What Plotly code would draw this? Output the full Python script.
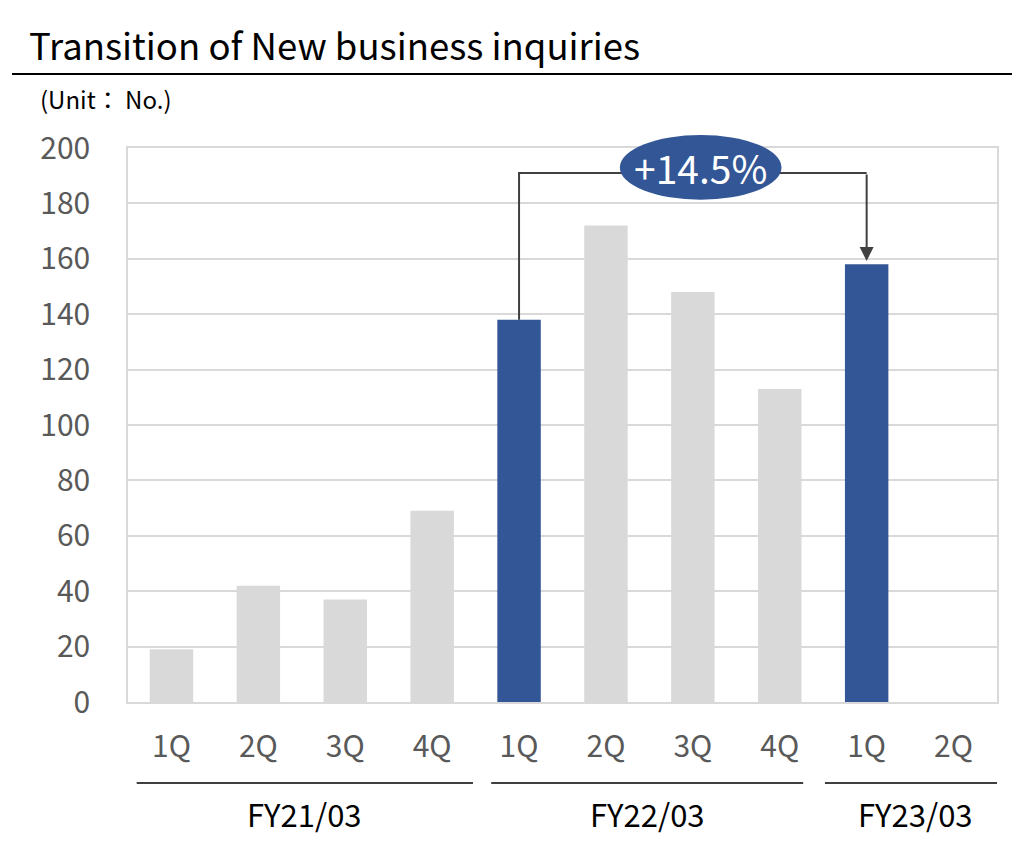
import plotly.graph_objects as go

quarters = ["1Q", "2Q", "3Q", "4Q", "1Q", "2Q", "3Q", "4Q", "1Q", "2Q"]
values = [19, 42, 37, 69, 138, 172, 148, 113, 158, None]
highlight = [False, False, False, False, True, False, False, False, True, False]
fiscal_years = ["FY21/03", "FY22/03", "FY23/03"]
fy_spans = [(-0.4, 3.47), (3.68, 7.27), (7.52, 9.5)]
y_ticks = [0, 20, 40, 60, 80, 100, 120, 140, 160, 180, 200]

BLUE = "#335696"
GRAY = "#d9d9d9"
FONT = "Noto Sans CJK JP"

xs = list(range(len(quarters)))
colors = [BLUE if h else GRAY for h in highlight]

fig = go.Figure()
fig.add_trace(go.Bar(x=xs, y=values, marker=dict(color=colors, line=dict(width=0)), width=0.5, hoverinfo="skip"))

OFF = 8  # page body margin
W, H = 1022, 848
L, T = 120, 140
pw, ph = 869, 554
R, B = W - L - pw, H - T - ph
X0, X1 = -0.5, 9.5
Y0, Y1 = 0, 200

def px_x(p):
    return (p - OFF - L) / pw

def px_y(p):
    return (T + ph - (p - OFF)) / ph

def dx(v):
    return (v - X0) / (X1 - X0)

def dy(v):
    return (v - Y0) / (Y1 - Y0)

shapes = []
annotations = []

# Title underline
shapes.append(dict(type="line", xref="paper", yref="paper", x0=px_x(12), x1=px_x(1012), y0=px_y(74), y1=px_y(74), line=dict(color="#000000", width=2)))

# Fiscal year group lines & labels
for fy, (a, b) in zip(fiscal_years, fy_spans):
    shapes.append(dict(type="line", xref="x", yref="paper", x0=a, x1=b, y0=px_y(783), y1=px_y(783), line=dict(color="#000000", width=1.5)))
    annotations.append(dict(x=(a + b) / 2 + (0.05 if fy == "FY23/03" else 0), y=px_y(813), xref="x", yref="paper", text=fy, showarrow=False, font=dict(family=FONT, size=31, color="#000000"), xanchor="center", yanchor="middle"))

# Connector line from FY22 1Q to FY23 1Q
i0, i1 = 4, 8
top_y = 191
shapes.append(dict(type="path", xref="x", yref="y", path=f"M {i0},{values[i0]} L {i0},{top_y} L {i1},{top_y}", line=dict(color="#404040", width=2)))
annotations.append(dict(x=i1, y=values[i1] + 1.2, ax=i1, ay=top_y, xref="x", yref="y", axref="x", ayref="y", text="", showarrow=True, arrowhead=2, arrowsize=1.4, arrowwidth=2, arrowcolor="#404040"))

# Ellipse with growth text (paper coords so it is not clipped by the plot area)
growth = (values[i1] / values[i0] - 1) * 100
cx, cy = 6.09, 193
shapes.append(dict(type="circle", xref="paper", yref="paper", x0=dx(cx - 0.93), x1=dx(cx + 0.93), y0=dy(cy - 11.7), y1=dy(cy + 11.7), fillcolor=BLUE, line=dict(width=0), layer="above"))
annotations.append(dict(x=dx(cx), y=dy(cy), xref="paper", yref="paper", text=f"+{growth:.1f}%", showarrow=False, font=dict(family=FONT, size=39, color="#ffffff"), xanchor="center", yanchor="middle"))

# Unit label
annotations.append(dict(x=px_x(38), y=px_y(98), xref="paper", yref="paper", text="(Unit： No.)", showarrow=False, font=dict(family=FONT, size=24, color="#000000"), xanchor="left", yanchor="middle"))

fig.update_layout(
    width=W, height=H,
    margin=dict(l=L, r=R, t=T, b=B, autoexpand=False),
    paper_bgcolor="#ffffff", plot_bgcolor="#ffffff",
    showlegend=False,
    title=dict(text="Transition of New business inquiries", x=(29 - OFF) / W, xanchor="left", y=1 - (47 - OFF) / H, yanchor="middle", font=dict(family=FONT, size=36.5, color="#000000")),
    xaxis=dict(range=[X0, X1], tickvals=xs, ticktext=quarters, showgrid=False, zeroline=False,
               showline=True, linecolor=GRAY, linewidth=1.5, mirror=True, ticks="",
               tickfont=dict(family=FONT, size=30, color="#595959"), ticklabelstandoff=17),
    yaxis=dict(range=[Y0, Y1], tickvals=y_ticks, showgrid=True, gridcolor=GRAY, gridwidth=1.5, zeroline=False,
               showline=True, linecolor=GRAY, linewidth=1.5, mirror=True, ticks="",
               tickfont=dict(family=FONT, size=30, color="#595959"), ticklabelstandoff=30),
    shapes=shapes, annotations=annotations,
)

fig.write_html("out.html")
